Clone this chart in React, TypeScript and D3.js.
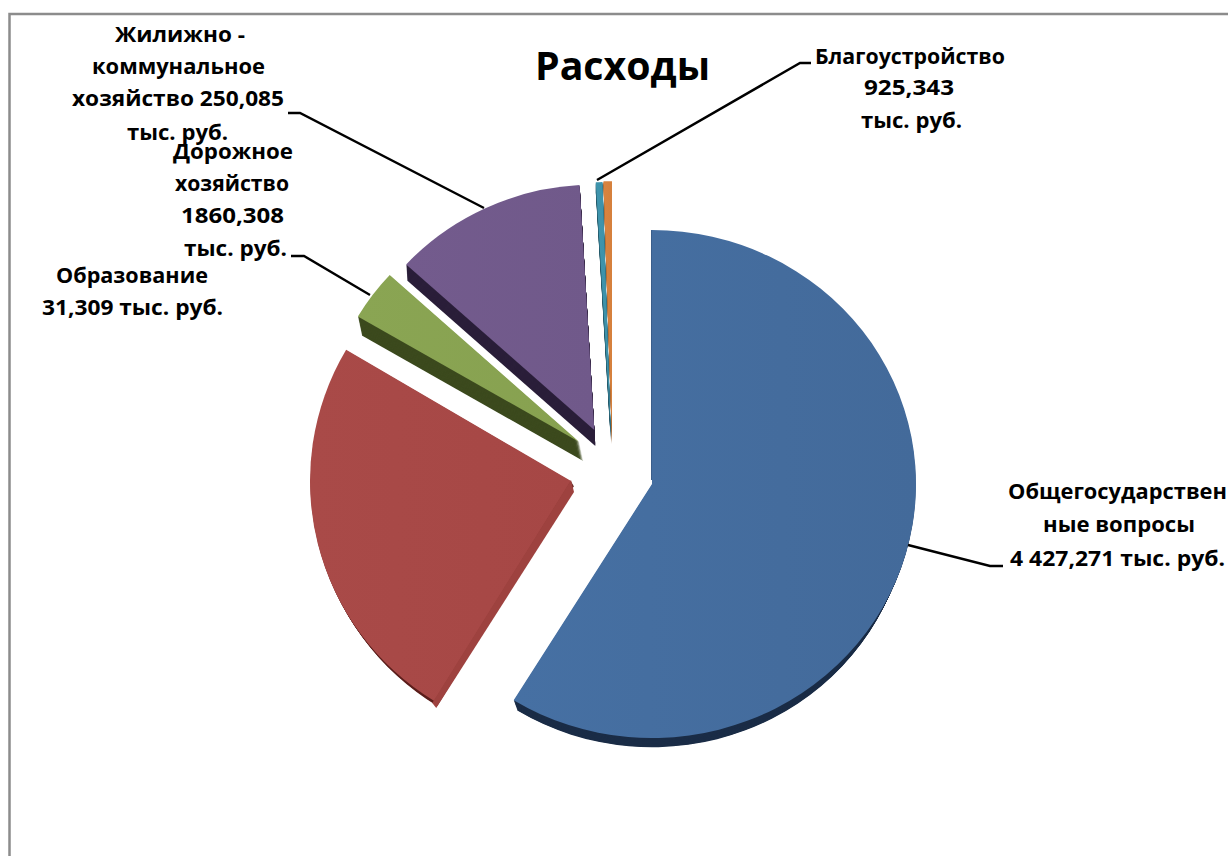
import React from "react";
import * as d3 from "d3";

// Values (thousand roubles); the last slice has no readable label and is estimated from its size.
const sliceNames = ["Общегосударственные вопросы", "Дорожное хозяйство", "Жилижно - коммунальное хозяйство", "Благоустройство", "Образование", "Прочее"];
const sliceValues = [4427.271, 1860.308, 250.085, 925.343, 31.309, 38];
const topColors = ["#4670a3", "#a94a48", "#8aa553", "#735b8d", "#3f95ad", "#d98440"];
const topColorsAlt = ["#436a9a", "#a64745", "#87a150", "#70598a", "#3c90a8", "#d5803c"];
const darkColors = ["#1b2d47", "#5c1f1c", "#3c4a1e", "#2b1f3a", "#24596a", "#8a5426"];

// Exploded, tilted 3D layout per slice
const apexX = [652, 571, 579.3, 594.3, 610.7, 612];
const apexY = [484, 481, 442, 430, 430, 440];
const radii = [264, 261, 257, 255, 258, 269];
const tilt = [0.962, 0.99, 0.962, 0.962, 0.962, 0.962];
const depthX = [0, 3, 4, 1, 0, 0];
const depthY = [16, 5, 19, 16, 10, 4];
const depthShrink = [7, 0, 0, 0, 0, 0];

const titleText = "Расходы";
const labelFont = "'Open Sans', 'Noto Sans', sans-serif";
const labelSize = 20.5;

const labelLines = [
  { text: "Жилижно -", x: 180, y: 35, w: 130 },
  { text: "коммунальное", x: 178.5, y: 67, w: 173 },
  { text: "хозяйство 250,085", x: 178, y: 99, w: 212 },
  { text: "тыс. руб.", x: 177.5, y: 133, w: 101 },
  { text: "Дорожное", x: 233, y: 152, w: 120 },
  { text: "хозяйство", x: 232, y: 184, w: 114 },
  { text: "1860,308", x: 232.5, y: 216, w: 103 },
  { text: "тыс. руб.", x: 235.5, y: 249, w: 103 },
  { text: "Образование", x: 132, y: 276, w: 152 },
  { text: "31,309 тыс. руб.", x: 132.5, y: 308, w: 181 },
  { text: "Благоустройство", x: 910, y: 57, w: 190 },
  { text: "925,343", x: 909, y: 88, w: 90 },
  { text: "тыс. руб.", x: 911.5, y: 121, w: 101 },
  { text: "Общегосударствен", x: 1117.5, y: 492, w: 219 },
  { text: "ные вопросы", x: 1119, y: 525, w: 152 },
  { text: "4 427,271 тыс. руб.", x: 1117.5, y: 559, w: 215 },
];

const leaderPoints: [number, number][][] = [
  [[288, 113], [300, 113], [484, 208]],
  [[291, 256], [304, 256], [370, 295]],
  [[811, 63], [800, 63], [597, 180]],
  [[1003, 566], [990, 566], [908, 545]],
];

export default function App() {
  const arcs = d3.pie<number>().sort(null).startAngle(0).endAngle(2 * Math.PI)(sliceValues);
  const line = d3.line();
  // back-to-front paint order
  const order = [3, 2, 4, 5, 1, 0];

  const sliceNodes = order.map((i) => {
    const a = arcs[i];
    const r = radii[i];
    const arcFor = (radius: number) =>
      d3.arc<unknown>().innerRadius(0).outerRadius(radius)({ startAngle: a.startAngle, endAngle: a.endAngle } as any) || "";
    const steps = d3.range(depthY[i], 0, -1);
    const cornerX = apexX[i] + r * Math.sin(a.startAngle);
    const cornerY = apexY[i] - r * Math.cos(a.startAngle) * tilt[i];
    return (
      <g key={sliceNames[i]}>
        {steps.map((s) => (
          <path
            key={s}
            d={arcFor(r - (depthShrink[i] * s) / depthY[i])}
            fill={darkColors[i]}
            transform={`translate(${apexX[i] + (depthX[i] * s) / depthY[i]},${apexY[i] + s}) scale(1,${tilt[i]})`}
          />
        ))}
        <path
          d={arcFor(r)}
          fill={`url(#grad${i})`}
          transform={`translate(${apexX[i]},${apexY[i]}) scale(1,${tilt[i]})`}
        />
        {i === 1 && (
          <polygon
            fill="#9e423f"
            points={[
              [apexX[i], apexY[i] - 1],
              [cornerX - 2, cornerY + 2],
              [cornerX + depthX[i] - 1, cornerY + depthY[i] + 2],
              [apexX[i] + depthX[i], apexY[i] + 11],
            ].join(" ")}
          />
        )}
        {i === 0 && (
          <line
            x1={apexX[i] - 0.5}
            x2={apexX[i] - 0.5}
            y1={apexY[i] - r * tilt[i]}
            y2={apexY[i] - 4}
            stroke="#3b5e8b"
            strokeWidth={1}
          />
        )}
      </g>
    );
  });

  return (
    <svg
      width={1228}
      height={856}
      viewBox="0 0 1228 856"
      style={{ position: "fixed", left: 0, top: 0, display: "block", background: "#fff" }}
    >
      <defs>
        {topColors.map((c, i) => (
          <linearGradient key={c} id={`grad${i}`} x1="0" y1="0" x2="1" y2="0">
            <stop offset="0" stopColor={c} />
            <stop offset="1" stopColor={topColorsAlt[i]} />
          </linearGradient>
        ))}
      </defs>
      <path d="M1228 14H9.5V856" fill="none" stroke="#8c8c8c" strokeWidth={2.5} />
      {sliceNodes}
      {leaderPoints.map((p, i) => (
        <path key={i} d={line(p) || ""} fill="none" stroke="#000" strokeWidth={2.4} />
      ))}
      <text
        x={622.5}
        y={80}
        textAnchor="middle"
        fontFamily={labelFont}
        fontWeight={700}
        fontSize={39}
        textLength={175}
        lengthAdjust="spacingAndGlyphs"
        fill="#000"
      >
        {titleText}
      </text>
      {labelLines.map((l, i) => (
        <text
          key={i}
          x={l.x}
          y={l.y}
          dy="0.36em"
          textAnchor="middle"
          fontFamily={labelFont}
          fontWeight={700}
          fontSize={labelSize}
          textLength={l.w}
          lengthAdjust="spacingAndGlyphs"
          fill="#000"
        >
          {l.text}
        </text>
      ))}
    </svg>
  );
}
